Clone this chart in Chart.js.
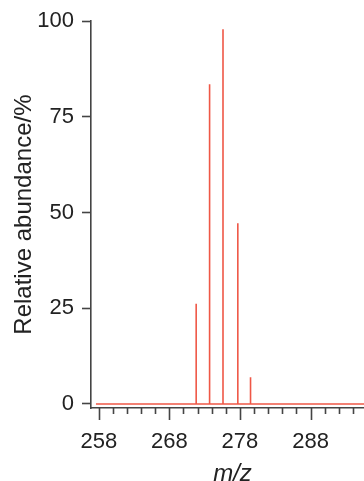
<html>
<head>
<style>
  body { margin: 0; overflow: hidden; background: #fff; }
  #wrap { width: 376px; height: 481px; }
</style>
</head>
<body>
<div id="wrap"><canvas id="spec" width="376" height="481"></canvas></div>
<script src="https://cdn.jsdelivr.net/npm/chart.js@4.4.1/dist/chart.umd.min.js"></script>
<script>
// peak positions (m/z) and relative abundance (%)
var mzPeaks = [271.8, 273.7, 275.6, 277.7, 279.5];
var abundance = [26.2, 83.5, 97.9, 47.2, 7.0];
// baseline of the spectrum
var baselineMz = [257.6, 297];
var baselineY = [0, 0];
// axis labels
var xLabels = [258, 268, 278, 288];
var yLabels = [0, 25, 50, 75, 100];

var red = '#ef5746';
var axisCol = '#444';
var txtCol = '#222';
var fam = '"Liberation Sans", Arial, sans-serif';

var datasets = [];
datasets.push({
  data: baselineMz.map(function (x, i) { return { x: x, y: baselineY[i] }; }),
  borderColor: red, borderWidth: 1.6, pointRadius: 0, showLine: true
});
for (var i = 0; i < mzPeaks.length; i++) {
  datasets.push({
    data: [{ x: mzPeaks[i], y: 0 }, { x: mzPeaks[i], y: abundance[i] }],
    borderColor: red, borderWidth: 1.6, pointRadius: 0, showLine: true
  });
}

// x tick marks: long at labelled values, short in between
var tickMarks = {
  id: 'tickMarks',
  afterDraw: function (chart) {
    var sx = chart.scales.x;
    var c = chart.ctx;
    c.save();
    c.strokeStyle = axisCol;
    c.lineWidth = 1.6;
    sx.ticks.forEach(function (t) {
      var px = Math.round(sx.getPixelForValue(t.value)) + 0.5;
      var len = xLabels.indexOf(t.value) >= 0 ? 12 : 6;
      c.beginPath();
      c.moveTo(px, sx.top);
      c.lineTo(px, sx.top + len);
      c.stroke();
    });
    c.restore();
  }
};

new Chart(document.getElementById('spec'), {
  type: 'scatter',
  data: { datasets: datasets },
  options: {
    responsive: false,
    animation: false,
    layout: { padding: { top: 20, left: 0, right: 0, bottom: 0 } },
    plugins: { legend: { display: false }, tooltip: { enabled: false } },
    scales: {
      x: {
        type: 'linear',
        min: 256.9,
        max: 297,
        afterBuildTicks: function (s) {
          var t = [];
          for (var v = 258; v <= 296; v += 2) t.push({ value: v });
          s.ticks = t;
        },
        afterFit: function (s) { s.height = 73; },
        border: { display: true, color: axisCol, width: 1.6 },
        grid: { drawOnChartArea: false, tickLength: 12, tickColor: 'rgba(0,0,0,0)' },
        ticks: {
          autoSkip: false, maxRotation: 0, padding: 9, color: txtCol,
          font: { family: fam, size: 22 },
          callback: function (v) { return xLabels.indexOf(v) >= 0 ? String(v) : ''; }
        },
        title: {
          display: true, text: 'm/z', color: txtCol,
          font: { family: fam, size: 24, style: 'italic', lineHeight: 0.55 },
          padding: { top: 0, bottom: 0 }
        }
      },
      y: {
        min: -1.05,
        max: 100,
        afterBuildTicks: function (s) {
          s.ticks = yLabels.map(function (v) { return { value: v }; });
        },
        afterFit: function (s) { s.width = 91; },
        border: { display: true, color: axisCol, width: 1.6 },
        grid: { drawOnChartArea: false, tickLength: 9, tickColor: axisCol, tickWidth: 1.6 },
        ticks: {
          padding: 8, color: txtCol,
          font: { family: fam, size: 22 }
        },
        title: {
          display: true, text: 'Relative abundance/%', color: txtCol,
          font: { family: fam, size: 24 },
          padding: { top: 10, bottom: 0 }
        }
      }
    }
  },
  plugins: [tickMarks]
});
</script>
</body>
</html>
